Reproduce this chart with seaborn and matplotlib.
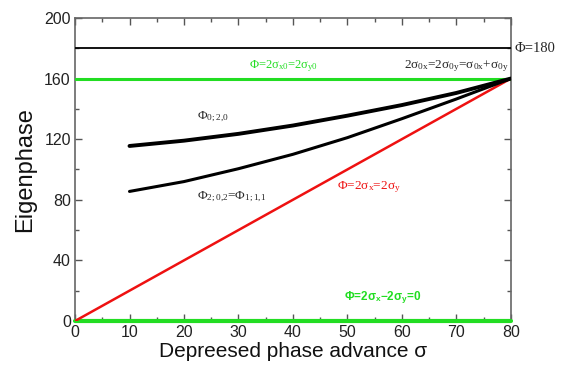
import matplotlib
matplotlib.use("Agg")
import matplotlib.pyplot as plt
import seaborn as sns
import numpy as np
import pandas as pd

sigma = [10, 20, 30, 40, 50, 60, 70, 80]
phi_020 = [115.5, 119, 123.5, 129, 135.5, 142.5, 150.5, 160]
phi_202 = [85.5, 92, 100.5, 110, 121, 133.5, 146.5, 160]
red_x = [0, 80]
red_y = [0, 160]
h_black = 180
h_green_top = 160
h_green_bot = 0

sns.set_theme(style="ticks")
plt.rcParams['font.family'] = ['Liberation Sans', 'DejaVu Sans']
plt.rcParams['mathtext.fontset'] = 'custom'
plt.rcParams['mathtext.rm'] = 'Liberation Serif'
plt.rcParams['mathtext.it'] = 'Liberation Serif'
plt.rcParams['mathtext.sf'] = 'Liberation Sans:bold'
plt.rcParams['mathtext.default'] = 'rm'

fig = plt.figure(figsize=(5.62, 3.66), dpi=100)
ax = fig.add_axes([0.1335, 0.123, 0.7755, 0.828])

df1 = pd.DataFrame({"x": sigma, "y": phi_020})
df2 = pd.DataFrame({"x": sigma, "y": phi_202})
df3 = pd.DataFrame({"x": red_x, "y": red_y})

ax.plot([0, 80], [h_black, h_black], color="black", lw=1.3, zorder=3)
ax.plot([0, 80], [h_green_top, h_green_top], color="#22dd22", lw=2.2, zorder=3)
ax.plot([0, 80], [h_green_bot, h_green_bot], color="#22dd22", lw=3, zorder=3, clip_on=False)
sns.lineplot(data=df3, x="x", y="y", ax=ax, color="#ee1111", lw=1.8, zorder=4)
sns.lineplot(data=df1, x="x", y="y", ax=ax, color="black", lw=2.8, zorder=5)
sns.lineplot(data=df2, x="x", y="y", ax=ax, color="black", lw=2.2, zorder=5)

ax.set_xlim(0, 80)
ax.set_ylim(0, 200)
ax.set_xticks(range(0, 81, 10))
ax.set_xticks(range(5, 80, 10), minor=True)
ax.set_yticks(range(0, 201, 40))
ax.set_yticks(range(20, 200, 40), minor=True)
ax.tick_params(which="both", direction="in", top=True, right=True, color="#555555")
ax.tick_params(which="major", length=5, width=1, labelsize=11.5, labelcolor="#222222", pad=3)
ax.tick_params(which="minor", length=3, width=1)
for s in ax.spines.values():
    s.set_color("#666666")
    s.set_linewidth(1.2)

ax.set_xlabel("Depreesed phase advance σ", fontsize=15, color="#111111", labelpad=1)
ax.set_ylabel("Eigenphase", fontsize=17, color="#111111", labelpad=6)

serif = ['Liberation Serif', 'DejaVu Serif']
ax.text(80.6, 180, "Φ=180", fontsize=10.5, family=serif, va="center", ha="left", clip_on=False)
ax.text(79.5, 163, r"2σ$_{0x}$=2σ$_{0y}$=σ$_{0x}$+σ$_{0y}$", fontsize=9.5, family=serif,
        va="bottom", ha="right")
ax.text(32, 163, r"Φ=2σ$_{x0}$=2σ$_{y0}$", fontsize=9, family=serif, color="#22dd22",
        va="bottom", ha="left")
ax.text(22.3, 130, r"Φ$_{0{;}2{,}0}$", fontsize=9.5, family=serif, va="bottom", ha="left")
ax.text(22.3, 77, r"Φ$_{2{;}0{,}2}$=Φ$_{1{;}1{,}1}$", fontsize=9.5, family=serif, va="bottom", ha="left")
ax.text(48, 83, r"Φ=2σ$_{x}$=2σ$_{y}$", fontsize=9.5, family=serif, color="#ee1111",
        va="bottom", ha="left")
ax.text(49.3, 10, r"Φ=2σ$_{\mathsf{x}}$−2σ$_{\mathsf{y}}$=0", fontsize=8.5, color="#22dd22",
        fontweight="bold", va="bottom", ha="left")

fig.savefig("out.png", dpi=100)
